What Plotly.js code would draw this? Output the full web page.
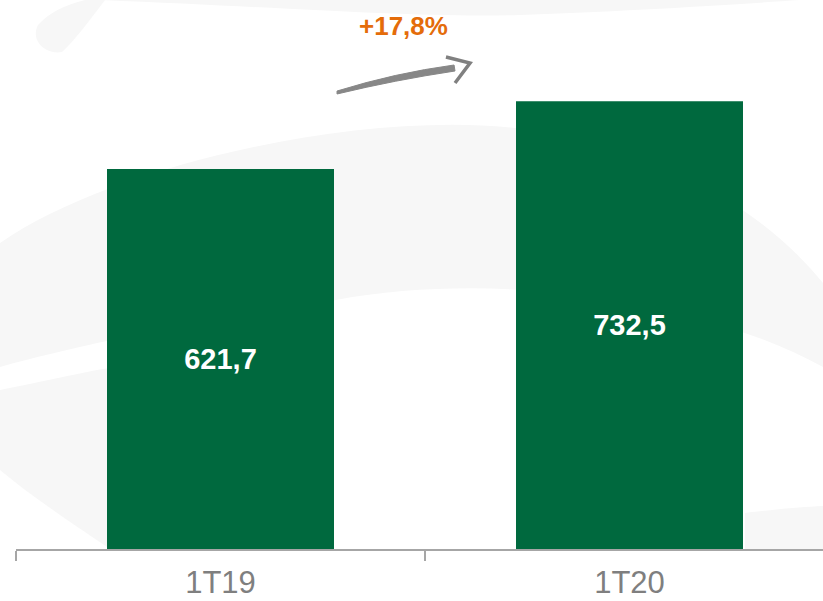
<!DOCTYPE html>
<html>
<head>
<meta charset="utf-8">
<script src="https://cdn.plot.ly/plotly-3.0.1.min.js"></script>
<style>
  html, body { margin: 0; padding: 0; background: #ffffff; }
  #chart { width: 823px; height: 601px; }
</style>
</head>
<body>
<div id="chart"></div>
<script>
// ---- data ----
const categories = ['1T19', '1T20'];
const values = [621.7, 732.5];
const growthLabel = '+17,8%';

// ---- geometry helpers (decoration only) ----
const L = 16, W = 807, B = 549, H = 549;
function pt(x, y) { return ((x - L) / W).toFixed(4) + ',' + ((B - y) / H).toFixed(4); }
function pth(cmds) {
  return cmds.map(c => {
    const k = c[0];
    if (k === 'Z') return 'Z';
    const nums = c.slice(1);
    const pairs = [];
    for (let i = 0; i < nums.length; i += 2) pairs.push(pt(nums[i], nums[i + 1]));
    return k + ' ' + pairs.join(' ');
  }).join(' ');
}

const bgFill = '#f7f7f7';
const bgShape = (cmds) => ({
  type: 'path', xref: 'paper', yref: 'paper', layer: 'below',
  path: pth(cmds), fillcolor: bgFill, line: { width: 0 }
});

const shapes = [
  // faint background swooshes
  bgShape([['M', 0, 243], ['C', 120, 160, 400, 100, 560, 135], ['C', 700, 165, 780, 230, 823, 283],
           ['L', 823, 367], ['C', 700, 300, 500, 270, 336, 300], ['C', 200, 320, 80, 345, 0, 367], ['Z']]),
  bgShape([['M', 0, 390], ['C', 60, 378, 90, 370, 130, 365], ['L', 130, 549], ['L', 110, 549],
           ['C', 60, 515, 30, 495, 0, 470], ['Z']]),
  bgShape([['M', 745, 513], ['C', 780, 509, 800, 507, 823, 506], ['L', 823, 549], ['L', 745, 549], ['Z']]),
  bgShape([['M', 100, 0], ['C', 300, 8, 420, 18, 520, 15], ['C', 650, 10, 740, 4, 800, 0], ['Z']]),
  bgShape([['M', 85, 0], ['L', 105, 0], ['C', 90, 20, 75, 40, 62, 52], ['C', 45, 55, 30, 40, 38, 25], ['C', 50, 12, 65, 5, 85, 0], ['Z']]),
  // growth arrow shaft (tapered)
  {
    type: 'path', xref: 'paper', yref: 'paper', layer: 'above',
    path: pth([['M', 337, 91], ['Q', 395, 73, 454, 65], ['L', 455, 71], ['Q', 395, 80, 337, 94], ['Z']]),
    fillcolor: '#878787', line: { color: '#878787', width: 1 }
  },
  // arrow head (open chevron)
  {
    type: 'path', xref: 'paper', yref: 'paper', layer: 'above',
    path: pth([['M', 446, 57], ['L', 470, 63], ['L', 455, 83]]),
    line: { color: '#808080', width: 3.5 }
  }
];

const trace = {
  type: 'bar',
  x: categories,
  y: values,
  width: 0.555,
  marker: { color: '#00693E', line: { width: 0 } },
  texttemplate: '%{y:.1f}',
  textposition: 'inside',
  insidetextanchor: 'middle',
  textangle: 0,
  constraintext: 'none',
  textfont: { family: 'Liberation Sans, Arial, sans-serif', size: 29, color: '#ffffff', weight: 'bold' },
  hoverinfo: 'skip'
};

const layout = {
  width: 823, height: 601,
  margin: { l: L, r: 0, t: 0, b: 601 - B },
  paper_bgcolor: '#ffffff',
  plot_bgcolor: 'rgba(0,0,0,0)',
  separators: ',.',
  showlegend: false,
  hovermode: false,
  font: { family: 'Liberation Sans, Arial, sans-serif' },
  xaxis: {
    type: 'category',
    range: [-0.5, -0.5 + W / 409],
    showline: true, linecolor: '#a6a6a6', linewidth: 1.5,
    ticks: 'outside', tickson: 'boundaries', ticklen: 10, tickcolor: '#a6a6a6', tickwidth: 1.5,
    tickfont: { size: 31, color: '#7f7f7f', family: 'Liberation Sans, Arial, sans-serif' },
    ticklabelstandoff: 5,
    showgrid: false, zeroline: false, fixedrange: true
  },
  yaxis: {
    range: [0, 898],
    visible: false, showgrid: false, zeroline: false, fixedrange: true
  },
  shapes: shapes,
  annotations: [{
    xref: 'paper', yref: 'paper',
    x: (403 - L) / W, y: (B - 26) / H,
    xanchor: 'center', yanchor: 'middle',
    text: growthLabel, showarrow: false,
    font: { family: 'Liberation Sans, Arial, sans-serif', size: 26, color: '#E46C0A', weight: 'bold' }
  }]
};

Plotly.newPlot('chart', [trace], layout, { displayModeBar: false, staticPlot: true });
</script>
</body>
</html>
